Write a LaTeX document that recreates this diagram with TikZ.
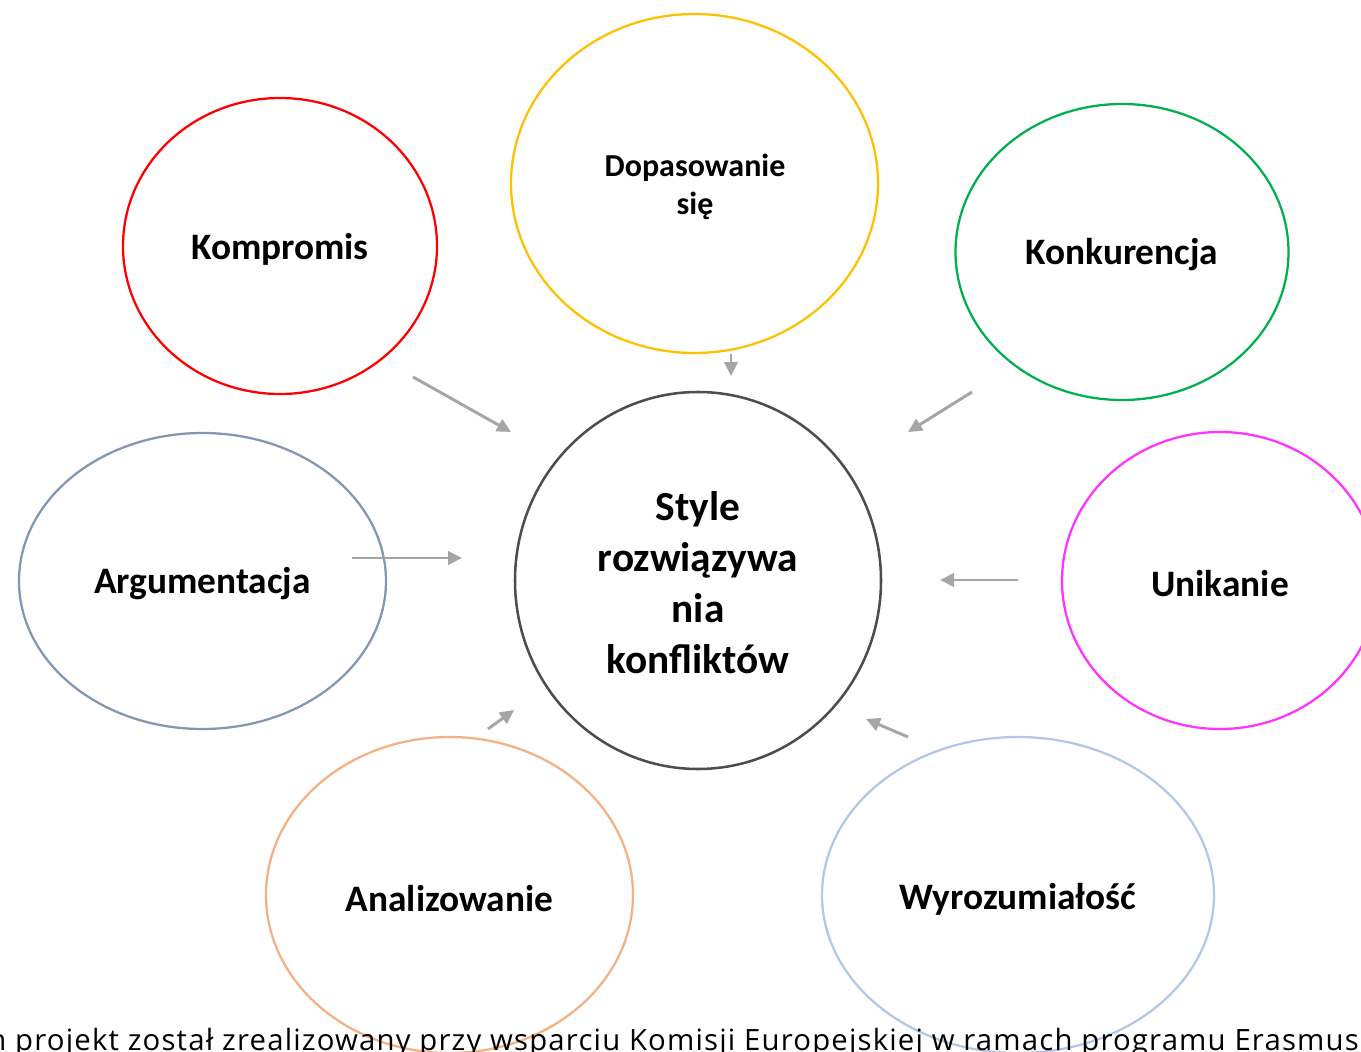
\documentclass[tikz,border=0pt]{standalone}
\usepackage{fontspec}
\setmainfont{Carlito}
\newfontfamily\footfont[LetterSpace=4]{Open Sans}
\usetikzlibrary{shapes.geometric,arrows.meta}
\definecolor{cRed}{HTML}{FF0000}
\definecolor{cYel}{HTML}{FFC000}
\definecolor{cGrn}{HTML}{00B050}
\definecolor{cBlu}{HTML}{8497B0}
\definecolor{cMag}{HTML}{FF33FF}
\definecolor{cOra}{HTML}{F4B183}
\definecolor{cLbl}{HTML}{B4C7E7}
\definecolor{cCen}{HTML}{4D4D4D}
\definecolor{cArr}{HTML}{A5A5A5}
\begin{document}
\begin{tikzpicture}[x=0.75pt,y=-0.75pt,
  oval/.style n args={3}{ellipse, draw=#1, line width=1.7pt, inner sep=0pt,
     minimum width=#2*0.75pt, minimum height=#3*0.75pt},
  lbl/.style={align=center, font=\bfseries\fontsize{28}{34}\selectfont},
  arr/.style={draw=cArr, line width=2.2pt, -{Triangle[length=10.5pt,width=10pt]}}]
\useasboundingbox (0,0) rectangle (1361,1052);
\clip (0,0) rectangle (1361,1052);
\node[oval={cRed}{314}{296}] (komp) at (280,246) {};
\node[oval={cYel}{367}{339}] (dopa) at (694.5,183.5) {};
\node[oval={cGrn}{333}{296}] (konk) at (1122,252) {};
\node[oval={cBlu}{367}{296}] (argu) at (202.5,581) {};
\node[oval={cMag}{316}{297}] (unik) at (1220,580.5) {};
\node[oval={cOra}{367}{316}] (anal) at (449.5,895) {};
\node[oval={cLbl}{392}{316}] (wyro) at (1018,895) {};
\node[oval={cCen}{366}{377}, line width=1.9pt] (cent) at (698,580.5) {};
\node[lbl] (kompt) at (280,249) {Kompromis};
\node[lbl, font=\bfseries\fontsize{24}{28.5}\selectfont] (dopat) at (695,187) {Dopasowanie\\się};
\node[lbl] (konkt) at (1122,255) {Konkurencja};
\node[lbl] (argut) at (202.5,584) {Argumentacja};
\node[lbl] (unikt) at (1220,584) {Unikanie};
\node[lbl] (analt) at (449.5,899) {Analizowanie};
\node[lbl] (wyrot) at (1018,899) {Wyrozumiałość};
\node[lbl, font=\bfseries\fontsize{31}{38.3}\selectfont] (centt) at (698,583) {Style\\rozwiązywa\\nia\\konfliktów};
% arrows
\coordinate (a1s) at (413,377); \coordinate (a1e) at (511,432);
\coordinate (a2s) at (731,354); \coordinate (a2e) at (731,376);
\coordinate (a3s) at (972,392); \coordinate (a3e) at (908,432);
\coordinate (a4s) at (352,558); \coordinate (a4e) at (462,558);
\coordinate (a5s) at (1018,580); \coordinate (a5e) at (940,580);
\coordinate (a6s) at (488,729); \coordinate (a6e) at (514,710);
\coordinate (a7s) at (908,737); \coordinate (a7e) at (866,719);
\draw[arr] (a1s) -- (a1e);
\draw[arr] (a2s) -- (a2e);
\draw[arr] (a3s) -- (a3e);
\draw[arr] (a4s) -- (a4e);
\draw[arr] (a5s) -- (a5e);
\draw[arr] (a6s) -- (a6e);
\draw[arr] (a7s) -- (a7e);
\node[anchor=base west, inner sep=0pt, font=\footfont\fontsize{22}{26}\selectfont] (foot) at (15,1050) {\llap{Ten }projekt został zrealizowany przy wsparciu Komisji Europejskiej w ramach programu Erasmus+};
\end{tikzpicture}
\end{document}
